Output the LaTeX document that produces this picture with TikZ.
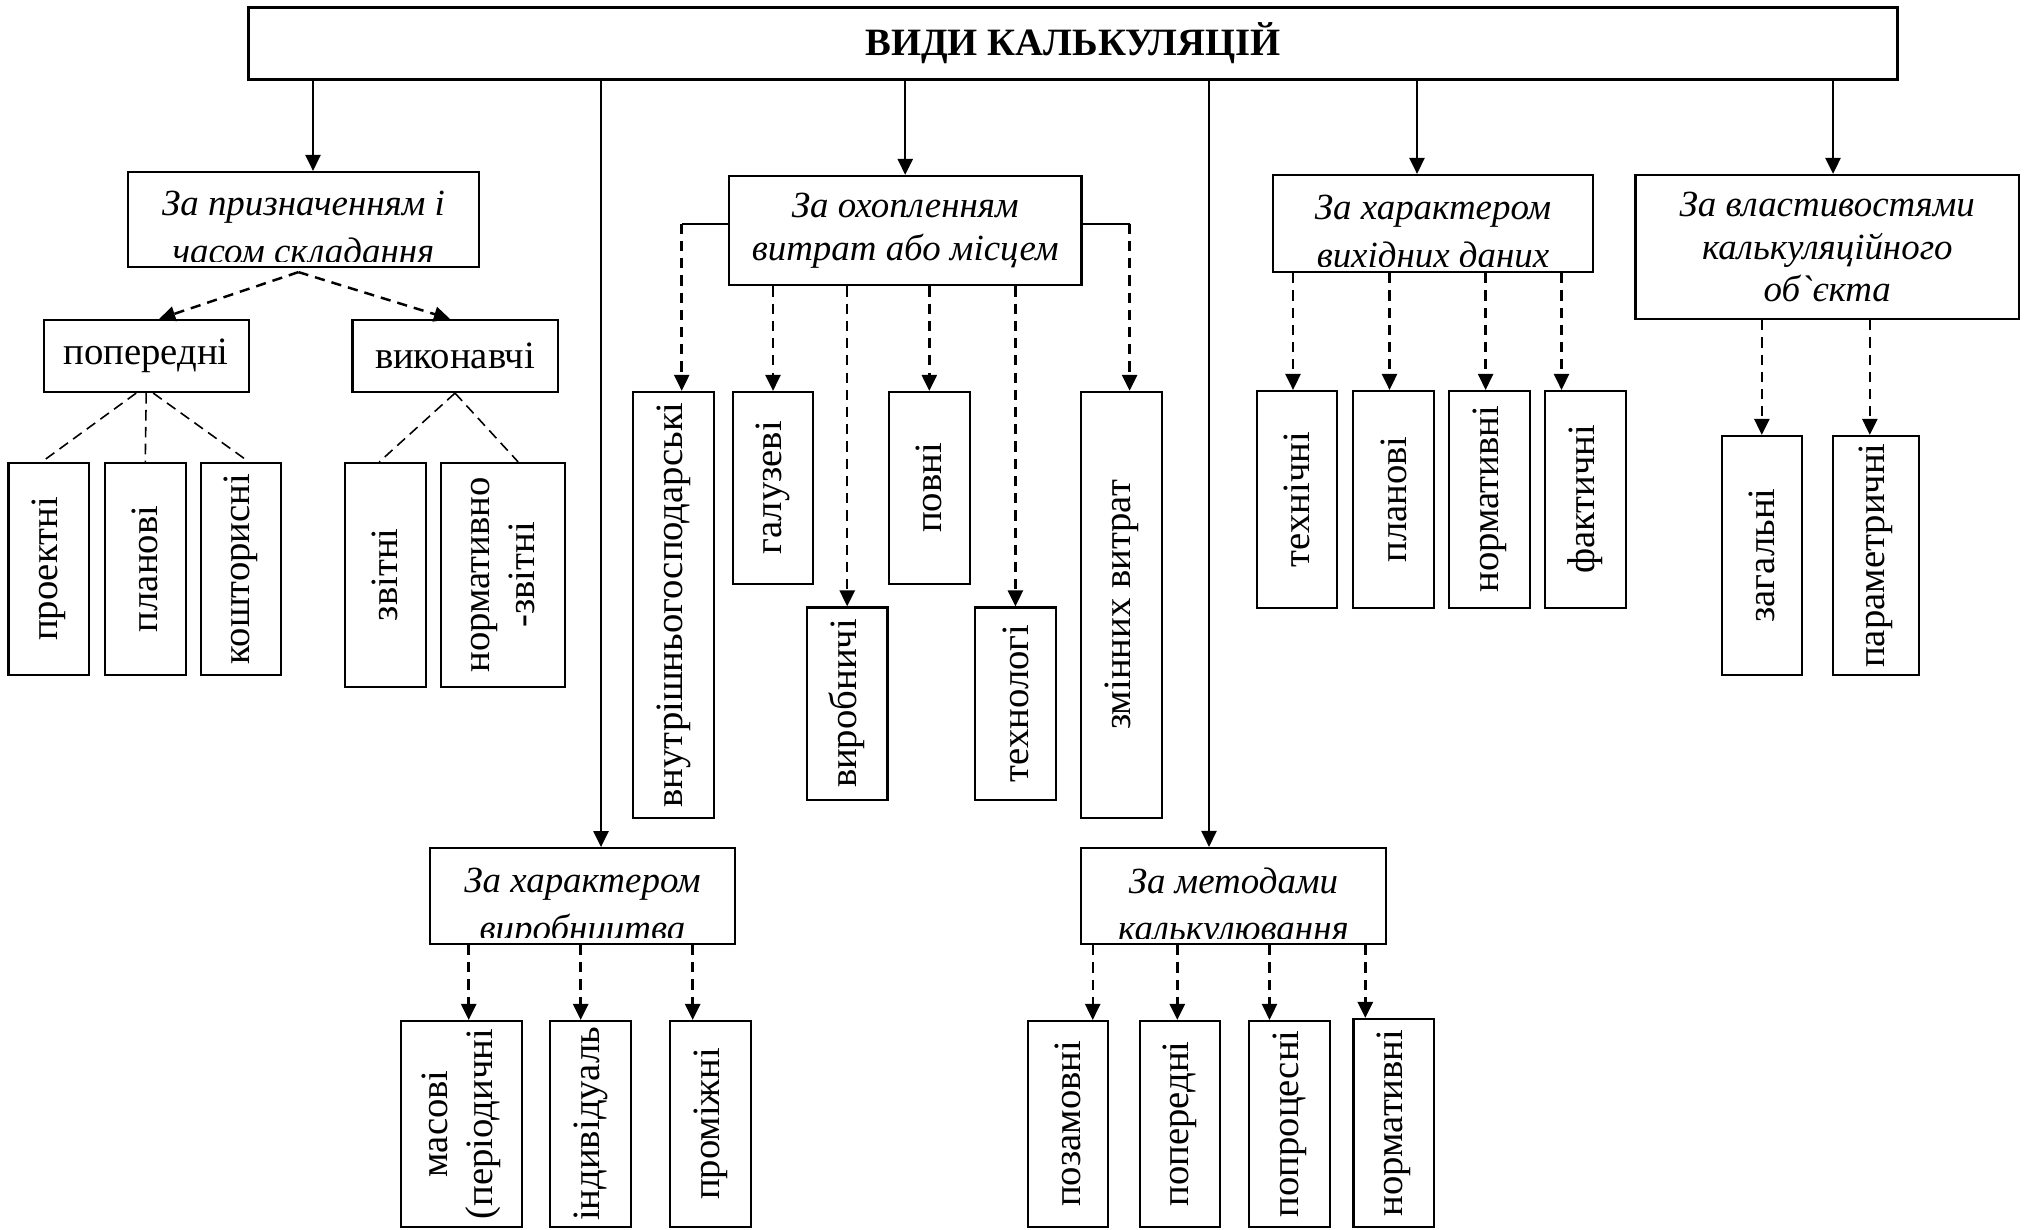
\documentclass[tikz,border=0pt]{standalone}
\usepackage{fontspec}
\setmainfont{Liberation Serif}
\usetikzlibrary{arrows.meta}

\begin{document}
\begin{tikzpicture}[x=0.01cm, y=-0.01cm,
  every node/.style={font=\fontsize{11}{12.8}\selectfont},
  topbox/.style={draw, line width=0.7pt, inner sep=0pt, minimum width=16.48cm, minimum height=0.72cm, font=\bfseries\fontsize{11}{12.8}\selectfont},
  catbox/.style={draw, line width=0.6pt, inner sep=0pt, align=center, font=\itshape\fontsize{10.5}{12}\selectfont},
  cuttext/.style 2 args={path picture={
    \clip ([yshift=0.06cm]path picture bounding box.south west) rectangle (path picture bounding box.north east);
    \node[anchor=north, align=center, inner sep=0pt, font=\itshape\fontsize{10.5}{13.6}\selectfont] at ([yshift=#1]path picture bounding box.north) {#2};}},
  subbox/.style={draw, line width=0.6pt, inner sep=0pt, minimum width=2.05cm, minimum height=0.72cm},
  vbox/.style={draw, line width=0.6pt, inner sep=0pt, rotate=90, align=center, minimum height=0.805cm},
  solarr/.style={-{Triangle[length=1.6mm,width=1.5mm]}, line width=0.7pt},
  dasharr/.style={-{Triangle[length=1.6mm,width=1.5mm]}, line width=0.7pt, dash pattern=on 2.9pt off 2pt},
  thindash/.style={line width=0.45pt, dash pattern=on 3pt off 1.8pt}]
\useasboundingbox (0,0) rectangle (2031,1229);

\node[topbox] (vydy) at (1073,43.3) {ВИДИ КАЛЬКУЛЯЦІЙ};

\node[catbox, minimum width=3.51cm, minimum height=0.95cm, cuttext={-0.07cm}{За призначенням і\\часом складання}] (pryzn) at (303.5,219.5) {};
\node[catbox, minimum width=3.524cm, minimum height=1.093cm] (okhop) at (905.2,230.6) {За охопленням\\витрат або місцем};
\node[catbox, minimum width=3.2cm, minimum height=0.97cm, cuttext={-0.07cm}{За характером\\вихідних даних}] (vykhid) at (1433,223.5) {};
\node[catbox, minimum width=3.834cm, minimum height=1.44cm] (vlast) at (1827.3,247) {За властивостями\\калькуляційного\\об\textasciigrave єкта};
\node[catbox, minimum width=3.05cm, minimum height=0.957cm, cuttext={-0.11cm}{За характером\\виробництва}] (vyrob) at (582.5,896) {};
\node[catbox, minimum width=3.047cm, minimum height=0.96cm, cuttext={-0.11cm}{За методами\\калькулювання}] (metod) at (1233.4,896) {};

\draw[solarr] ([xshift=0.095cm]vydy.south -| pryzn.north) -- ([xshift=0.095cm]pryzn.north);
\draw[solarr] ([xshift=0.185cm]vydy.south -| vyrob.north) -- ([xshift=0.185cm]vyrob.north);
\draw[solarr] (vydy.south -| okhop.north) -- (okhop.north);
\draw[solarr] ([xshift=-0.244cm]vydy.south -| metod.north) -- ([xshift=-0.244cm]metod.north);
\draw[solarr] ([xshift=-0.16cm]vydy.south -| vykhid.north) -- ([xshift=-0.16cm]vykhid.north);
\draw[solarr] ([xshift=0.057cm]vydy.south -| vlast.north) -- ([xshift=0.057cm]vlast.north);

\node[subbox] (poper) at (146.2,356) {попередні};
\node[subbox] (vykon) at (455,356) {виконавчі};
\draw[dasharr] ([xshift=-0.05cm,yshift=-0.04cm]pryzn.south) -- ([xshift=0.13cm]poper.north);
\draw[dasharr] ([xshift=-0.05cm,yshift=-0.04cm]pryzn.south) -- ([xshift=-0.05cm]vykon.north);

\node[vbox, minimum width=2.12cm] (proekt) at (48.8,569) {проектні};
\node[vbox, minimum width=2.12cm] (plan1) at (145.3,569) {планові};
\node[vbox, minimum width=2.12cm] (koshtor) at (241,569) {кошторисні};
\node[vbox, minimum width=2.236cm] (zvit) at (385.3,574.8) {звітні};
\node[vbox, minimum width=2.236cm, minimum height=1.244cm] (normzv) at (503.1,574.8) {нормативно\\-звітні};
\draw[thindash] ([xshift=-0.1cm]poper.south) -- ([xshift=-0.07cm]proekt.east);
\draw[thindash] (poper.south) -- (plan1.east);
\draw[thindash] ([xshift=0.07cm]poper.south) -- ([xshift=0.08cm]koshtor.east);
\draw[thindash] (vykon.south) -- ([xshift=-0.06cm]zvit.east);
\draw[thindash] (vykon.south) -- ([xshift=0.15cm]normzv.east);

\node[vbox, minimum width=4.26cm] (vnutr) at (673.7,605) {внутрішньогосподарські};
\node[vbox, minimum width=1.916cm] (haluz) at (773,487.8) {галузеві};
\node[vbox, minimum width=1.92cm] (vyrobn) at (847.2,703.5) {виробничі};
\node[vbox, minimum width=1.916cm] (povni) at (929.3,487.8) {повні};
\node[vbox, minimum width=1.92cm] (tekhn) at (1015.4,703.5) {технологі};
\node[vbox, minimum width=4.26cm] (zmin) at (1121.6,605) {змінних витрат};
\draw[line width=0.6pt] ([yshift=0.07cm]okhop.west) -- ([xshift=0.08cm,yshift=0.07cm]okhop.west -| vnutr.east) coordinate (lk);
\draw[dasharr] (lk) -- ([xshift=0.08cm]vnutr.east);
\draw[line width=0.6pt] ([yshift=0.07cm]okhop.east) -- ([xshift=0.08cm,yshift=0.07cm]okhop.east -| zmin.east) coordinate (rk);
\draw[dasharr] (rk) -- ([xshift=0.08cm]zmin.east);
\foreach \n in {haluz,vyrobn,povni,tekhn}
  \draw[dasharr] (okhop.south -| \n.east) -- (\n.east);

\node[vbox, minimum width=2.167cm] (tekhnich) at (1297,499.4) {технічні};
\node[vbox, minimum width=2.167cm] (plan2) at (1393.5,499.4) {планові};
\node[vbox, minimum width=2.167cm] (norm1) at (1489.6,499.4) {нормативні};
\node[vbox, minimum width=2.167cm] (fakt) at (1585.5,499.4) {фактичні};
\foreach \n in {tekhnich,plan2,norm1}
  \draw[dasharr] ([xshift=-0.04cm]vykhid.south -| \n.east) -- ([xshift=-0.04cm]\n.east);
\draw[dasharr] ([xshift=-0.24cm]vykhid.south -| fakt.east) -- ([xshift=-0.24cm]fakt.east);

\node[vbox, minimum width=2.39cm] (zahal) at (1761.8,555.5) {загальні};
\node[vbox, minimum width=2.39cm, minimum height=0.856cm] (param) at (1875.8,555.5) {параметричні};
\draw[dasharr] (vlast.south -| zahal.east) -- (zahal.east);
\draw[dasharr] ([xshift=-0.06cm]vlast.south -| param.east) -- ([xshift=-0.06cm]param.east);

\node[vbox, minimum width=2.057cm, minimum height=1.207cm] (masovi) at (461.4,1123.9) {масові\\(періодичні};
\node[vbox, minimum width=2.057cm] (indyv) at (590.7,1123.9) {індивідуаль};
\node[vbox, minimum width=2.057cm] (promizh) at (710.7,1123.9) {проміжні};
\draw[dasharr] ([xshift=0.073cm]vyrob.south -| masovi.east) -- ([xshift=0.073cm]masovi.east);
\draw[dasharr] ([xshift=-0.1cm]vyrob.south -| indyv.east) -- ([xshift=-0.1cm]indyv.east);
\draw[dasharr] ([xshift=-0.18cm]vyrob.south -| promizh.east) -- ([xshift=-0.18cm]promizh.east);

\node[vbox, minimum width=2.057cm] (pozam) at (1068,1123.9) {позамовні};
\node[vbox, minimum width=2.057cm] (poper2) at (1180,1123.9) {попередні};
\node[vbox, minimum width=2.057cm] (poproc) at (1289.5,1123.9) {попроцесні};
\node[vbox, minimum width=2.077cm] (norm2) at (1393.7,1122.9) {нормативні};
\draw[dasharr] ([xshift=0.247cm]metod.south -| pozam.east) -- ([xshift=0.247cm]pozam.east);
\draw[dasharr] ([xshift=-0.027cm]metod.south -| poper2.east) -- ([xshift=-0.027cm]poper2.east);
\draw[dasharr] ([xshift=-0.2cm]metod.south -| poproc.east) -- ([xshift=-0.2cm]poproc.east);
\draw[dasharr] ([xshift=-0.284cm]metod.south -| norm2.east) -- ([xshift=-0.284cm]norm2.east);
\end{tikzpicture}
\end{document}
